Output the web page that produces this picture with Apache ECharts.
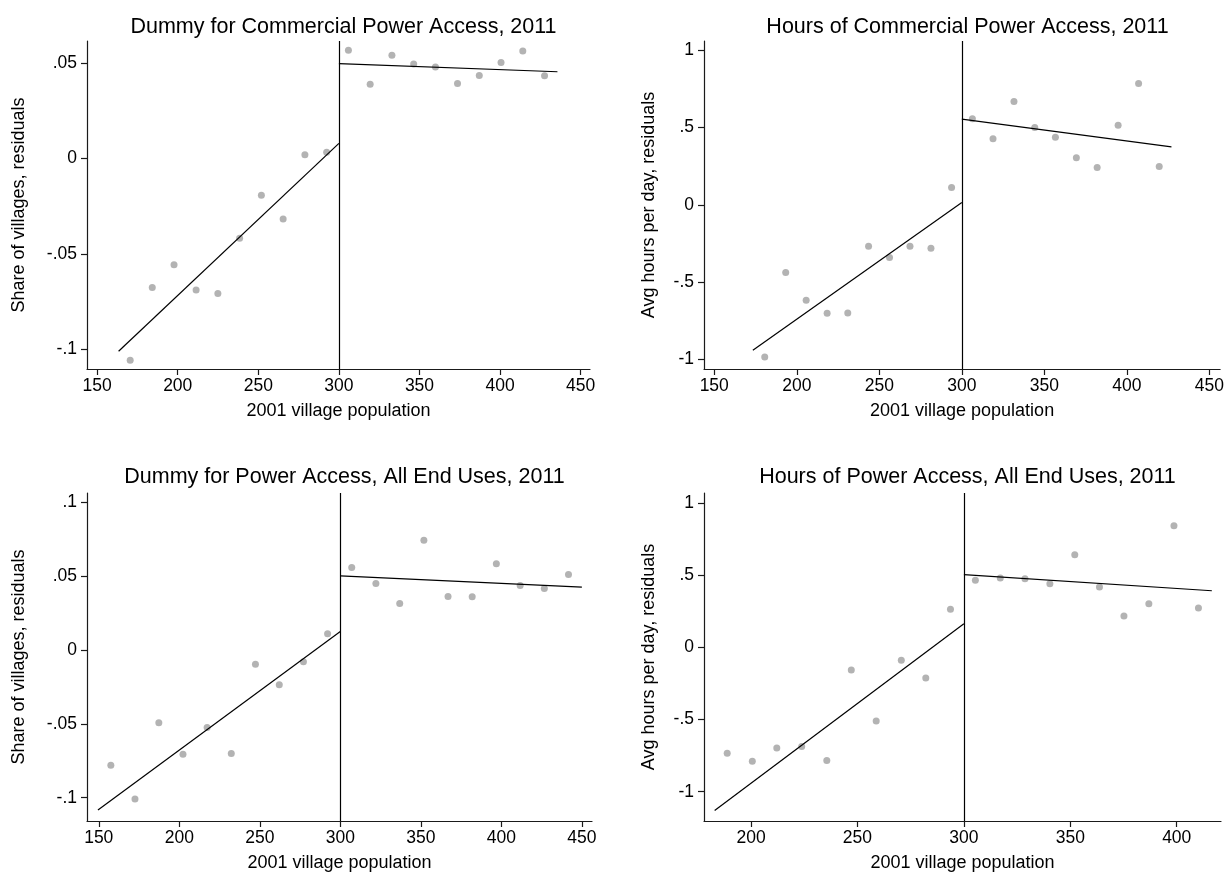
<html>
<head>
  <meta charset="utf-8">
  <title>RD plots</title>
  <script type="text/javascript" src="https://cdn.jsdelivr.net/npm/echarts@6/dist/echarts.min.js"></script>
</head>
<body style="margin:0; background:#fff;">
<div id="chartmain" style="width:1227px; height:873px;"></div>
<script type="text/javascript">
  // panel titles and axis names
  let titles = [
    'Dummy for Commercial Power Access, 2011',
    'Hours of Commercial Power Access, 2011',
    'Dummy for Power Access, All End Uses, 2011',
    'Hours of Power Access, All End Uses, 2011'
  ];
  let xName = '2001 village population';
  let yNames = ['Share of villages, residuals', 'Avg hours per day, residuals',
                'Share of villages, residuals', 'Avg hours per day, residuals'];
  let cutoff = 300;

  // tick values
  let xTicks = [[150, 200, 250, 300, 350, 400, 450], [150, 200, 250, 300, 350, 400, 450],
                [150, 200, 250, 300, 350, 400, 450], [200, 250, 300, 350, 400]];
  let yTicks = [[-0.1, -0.05, 0, 0.05], [-1, -0.5, 0, 0.5, 1],
                [-0.1, -0.05, 0, 0.05, 0.1], [-1, -0.5, 0, 0.5, 1]];

  // panel 1: dummy, commercial
  let x1L = [170.5, 184.2, 197.7, 211.4, 224.9, 238.4, 251.9, 265.4, 278.9, 292.4];
  let y1L = [-0.1056, -0.0675, -0.0556, -0.0689, -0.0707, -0.0417, -0.0193, -0.0317, 0.0019, 0.0032];
  let x1R = [305.9, 319.4, 332.9, 346.4, 359.9, 373.6, 387.1, 400.6, 414.1, 427.6];
  let y1R = [0.0567, 0.0388, 0.0540, 0.0495, 0.0479, 0.0393, 0.0435, 0.0503, 0.0563, 0.0433];
  let fit1L = [[163.3, -0.1009], [300, 0.0079]];
  let fit1R = [[300, 0.0497], [435.6, 0.0454]];

  // panel 2: hours, commercial
  let x2L = [180.6, 193.3, 205.7, 218.4, 230.9, 243.5, 256.2, 268.6, 281.3, 293.8];
  let y2L = [-0.985, -0.438, -0.618, -0.702, -0.700, -0.268, -0.341, -0.268, -0.281, 0.112];
  let x2R = [306.4, 318.9, 331.6, 344.2, 356.7, 369.4, 382.0, 394.7, 407.1, 419.6];
  let y2R = [0.557, 0.428, 0.670, 0.501, 0.438, 0.305, 0.242, 0.516, 0.786, 0.248];
  let fit2L = [[173.4, -0.942], [300, 0.015]];
  let fit2R = [[300, 0.555], [427.0, 0.376]];

  // panel 3: dummy, all end uses
  let x3L = [157.5, 172.5, 187.3, 202.3, 217.3, 232.3, 247.3, 262.1, 277.1, 292.1];
  let y3L = [-0.0781, -0.1009, -0.0492, -0.0706, -0.0524, -0.0700, -0.0095, -0.0235, -0.0079, 0.0111];
  let x3R = [307.1, 322.1, 336.9, 351.9, 366.9, 381.9, 396.9, 411.7, 426.7, 441.7];
  let y3R = [0.0560, 0.0451, 0.0316, 0.0745, 0.0363, 0.0361, 0.0585, 0.0438, 0.0418, 0.0512];
  let fit3L = [[149.5, -0.1083], [300, 0.0126]];
  let fit3R = [[300, 0.0503], [450, 0.0427]];

  // panel 4: hours, all end uses
  let x4L = [188.8, 200.6, 212.1, 223.8, 235.6, 247.1, 258.8, 270.6, 282.1, 293.7];
  let y4L = [-0.734, -0.789, -0.697, -0.687, -0.784, -0.157, -0.510, -0.090, -0.212, 0.263];
  let x4R = [305.4, 317.1, 328.7, 340.4, 352.1, 363.7, 375.2, 386.9, 398.7, 410.2];
  let y4R = [0.464, 0.480, 0.475, 0.441, 0.641, 0.418, 0.217, 0.302, 0.842, 0.272];
  let fit4L = [[182.9, -1.130], [300, 0.164]];
  let fit4R = [[300, 0.503], [416.5, 0.392]];

  let xs = [[x1L, x1R], [x2L, x2R], [x3L, x3R], [x4L, x4R]];
  let ys = [[y1L, y1R], [y2L, y2R], [y3L, y3R], [y4L, y4R]];
  let fits = [[fit1L, fit1R], [fit2L, fit2R], [fit3L, fit3R], [fit4L, fit4R]];

  // layout (px) and axis ranges
  let grids = [
    {left: 87, top: 41, width: 503, height: 328},
    {left: 704, top: 41, width: 517, height: 328},
    {left: 87, top: 493, width: 505, height: 328},
    {left: 704, top: 493, width: 517, height: 328}
  ];
  let xRange = [[143.7, 455.8], [143.8, 456.5], [142.7, 456.3], [177.9, 420.8]];
  let yRange = [[-0.1102, 0.0615], [-1.063, 1.061], [-0.1158, 0.1065], [-1.203, 1.069]];
  let yNameGap = [59, 46, 59, 46];
  let titleTop = [11, 11, 461, 461];

  let font = 'Liberation Sans, Arial, Helvetica, sans-serif';

  function stataFmt(v) {
    return String(v).replace('0.', '.');
  }

  function zip(a, b) {
    let out = [];
    for (let i = 0; i < a.length; i++) out.push([a[i], b[i]]);
    return out;
  }

  let axisLineStyle = {color: '#1a1a1a', width: 1.2};
  let option = {
    animation: false,
    backgroundColor: '#fff',
    title: [],
    grid: [],
    xAxis: [],
    yAxis: [],
    series: []
  };

  for (let p = 0; p < 4; p++) {
    let g = grids[p];
    option.grid.push(g);
    option.title.push({
      text: titles[p],
      left: g.left + g.width / 2,
      top: titleTop[p],
      textAlign: 'center',
      textStyle: {fontFamily: font, fontSize: 21.5, fontWeight: 'normal', color: '#000'}
    });
    option.xAxis.push({
      type: 'value',
      gridIndex: p,
      min: xRange[p][0],
      max: xRange[p][1],
      name: xName,
      nameLocation: 'middle',
      nameGap: 33,
      nameTextStyle: {fontFamily: font, fontSize: 18, color: '#000'},
      axisLine: {show: true, onZero: false, lineStyle: axisLineStyle},
      axisTick: {show: true, length: 6, customValues: xTicks[p], lineStyle: axisLineStyle},
      axisLabel: {customValues: xTicks[p], margin: 8, fontFamily: font, fontSize: 17.5, color: '#000'},
      splitLine: {show: false}
    });
    option.yAxis.push({
      type: 'value',
      gridIndex: p,
      min: yRange[p][0],
      max: yRange[p][1],
      name: yNames[p],
      nameLocation: 'middle',
      nameGap: yNameGap[p],
      nameTextStyle: {fontFamily: font, fontSize: 18, color: '#000'},
      axisLine: {show: true, onZero: false, lineStyle: axisLineStyle},
      axisTick: {show: true, length: 6, customValues: yTicks[p], lineStyle: axisLineStyle},
      axisLabel: {customValues: yTicks[p], margin: 10, fontFamily: font, fontSize: 17.5, color: '#000',
                  formatter: stataFmt},
      splitLine: {show: false}
    });
    option.series.push({
      type: 'scatter',
      xAxisIndex: p,
      yAxisIndex: p,
      symbolSize: 7,
      itemStyle: {color: '#a0a0a0'},
      data: zip(xs[p][0], ys[p][0]).concat(zip(xs[p][1], ys[p][1])),
      markLine: {
        silent: true,
        symbol: 'none',
        label: {show: false},
        lineStyle: {color: '#000', type: 'solid', width: 1.2},
        data: [{xAxis: cutoff}]
      }
    });
    for (let s = 0; s < 2; s++) {
      option.series.push({
        type: 'line',
        xAxisIndex: p,
        yAxisIndex: p,
        symbol: 'none',
        lineStyle: {color: '#000', width: 1.2},
        data: fits[p][s]
      });
    }
  }

  let myChart = echarts.init(document.getElementById('chartmain'));
  myChart.setOption(option);
</script>
</body>
</html>
